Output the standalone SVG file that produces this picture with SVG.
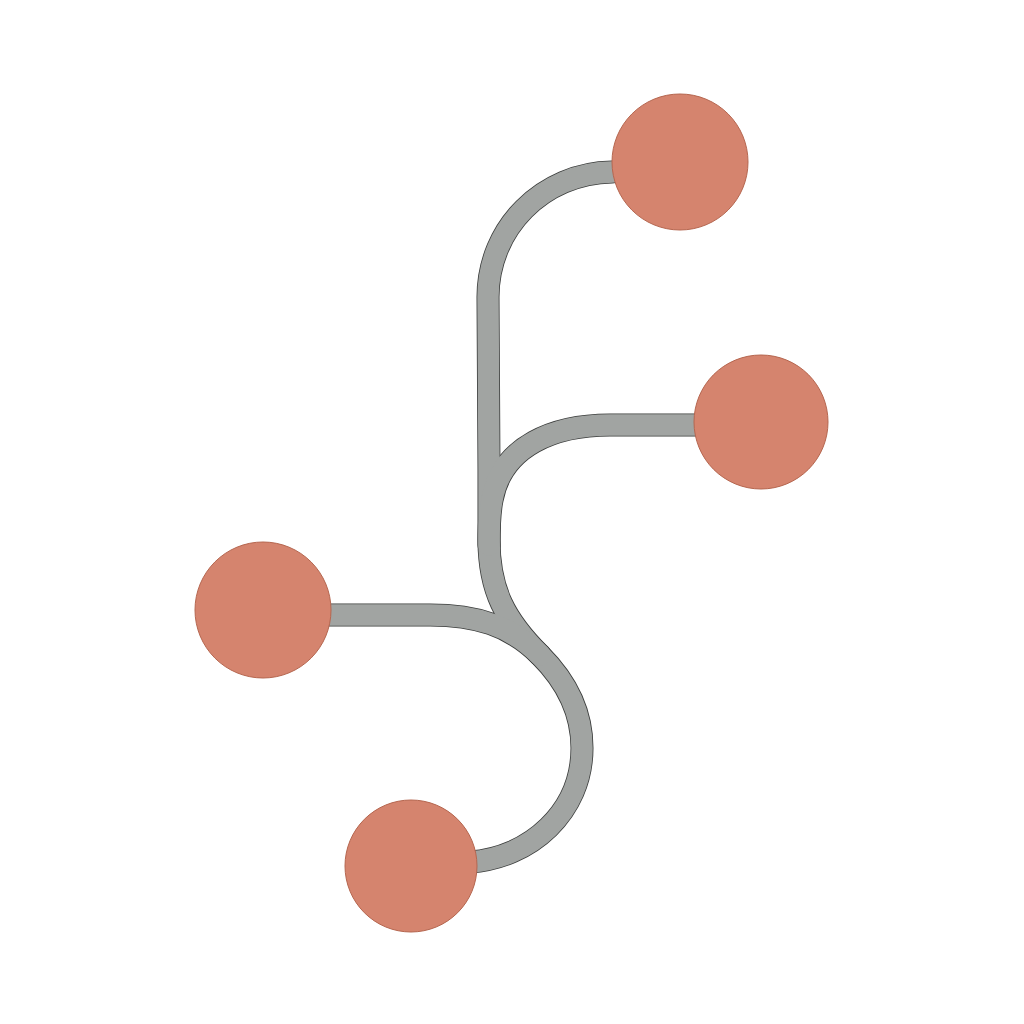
<svg xmlns="http://www.w3.org/2000/svg" width="1024" height="1024" viewBox="0 0 1024 1024">
<style>
.edge{fill:none;stroke:#3a3c3b;stroke-width:23;stroke-linecap:round;stroke-linejoin:round}
.tube{fill:none;stroke:#a1a4a2;stroke-width:21.4;stroke-linecap:round;stroke-linejoin:round}
.node{fill:#d5846e;stroke:#b5664f;stroke-width:1}
</style>
<defs>
<path id="p1" d="M 612 172 C 543 173 488 228 488 297 L 489 470 L 489 540 C 489 590 505 620 540 655 C 565 680 582 710 582 748 C 582 812 530 858 470 862"/>
<path id="p2" d="M 700 425 L 610 425 C 555 425 502 445 492 500 C 489 515 489 530 489 545"/>
<path id="p3" d="M 330 615 L 430 615 C 475 615 510 625 540 655"/>
</defs>
<rect width="1024" height="1024" fill="#ffffff"/>
<g id="connectors">
<use href="#p1" class="edge"/>
<use href="#p2" class="edge"/>
<use href="#p3" class="edge"/>
<use href="#p1" class="tube"/>
<use href="#p2" class="tube"/>
<use href="#p3" class="tube"/>
</g>
<g id="node-top"><circle class="node" cx="680" cy="162" r="68"/></g>
<g id="node-right"><circle class="node" cx="761" cy="422" r="67"/></g>
<g id="node-left"><circle class="node" cx="263" cy="610" r="68"/></g>
<g id="node-bottom"><circle class="node" cx="411" cy="866" r="66"/></g>
</svg>
